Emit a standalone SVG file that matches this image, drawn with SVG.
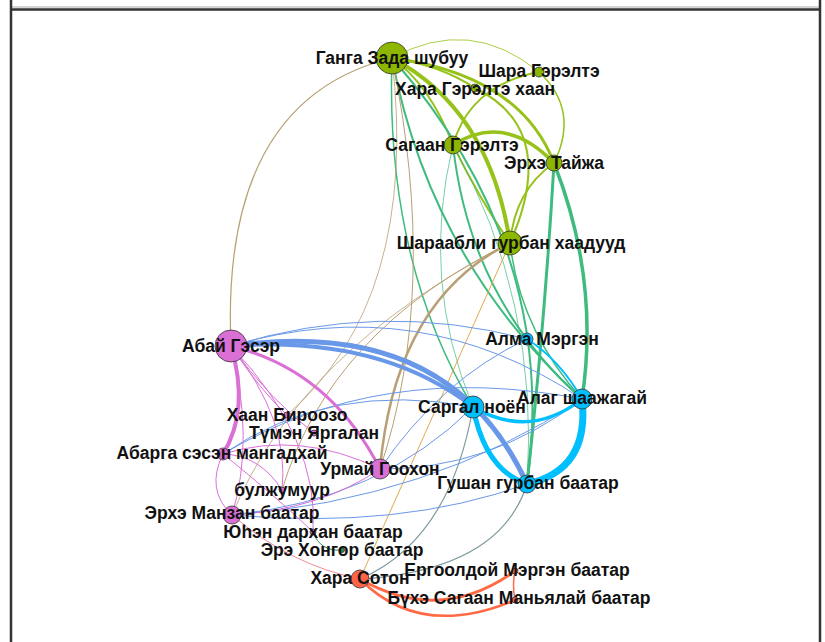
<svg xmlns="http://www.w3.org/2000/svg" width="825" height="642" viewBox="0 0 825 642">
<style>
.e{fill:none;stroke-linecap:round}
.g{stroke:#96c21a}.t{stroke:#3fbb80}.n{stroke:#b89f74}.b{stroke:#6a98e8}.p{stroke:#da70d6}.c{stroke:#00bfff}.s{stroke:#7d9a9e}.o{stroke:#ff6a45}.r{stroke:#f08c98}.y{stroke:#e0aa50}.d{stroke:#2e8b57}
.nd{stroke:#333;stroke-width:0.8}
.ng{fill:#8db600}.np{fill:#da70d6}.nb{fill:#00bfff}.no{fill:#ff6347}.nk{fill:#2e8b57}
text{font-family:"Liberation Sans",Arial,sans-serif;font-weight:bold;font-size:17.5px;fill:#111;text-anchor:middle}
</style>
<rect width="825" height="642" fill="#fff"/>
<g id="frame">
<line x1="11" y1="7" x2="820" y2="7" stroke="#aaa" stroke-width="1"/>
<line x1="11" y1="9.5" x2="820" y2="9.5" stroke="#333" stroke-width="2.5"/>
<line x1="11" y1="0" x2="11" y2="642" stroke="#333" stroke-width="2.5"/>
<line x1="820" y1="0" x2="820" y2="642" stroke="#333" stroke-width="2.5"/>
</g>
<g id="edges">
<path class="e g" stroke-width="1" opacity="0.8" d="M392,58 Q470,15 539,72"/>
<path class="e g" stroke-width="2" d="M392,58 Q430,85 453,145"/>
<path class="e g" stroke-width="3" d="M392,58 Q520,75 554,163"/>
<path class="e g" stroke-width="4" d="M392,58 Q490,110 510,243"/>
<path class="e g" stroke-width="2" d="M392,58 Q440,65 475,88"/>
<path class="e g" stroke-width="1.5" d="M539,72 Q580,110 554,163"/>
<path class="e g" stroke-width="2" d="M539,72 Q470,85 453,145"/>
<path class="e g" stroke-width="2" d="M475,88 Q560,130 510,243"/>
<path class="e g" stroke-width="3.5" d="M453,145 Q505,112 554,163"/>
<path class="e g" stroke-width="2" d="M453,145 Q480,200 510,243"/>
<path class="e g" stroke-width="2" d="M554,163 Q515,190 510,243"/>
<path class="e t" stroke-width="2" d="M392,58 Q430,260 582,399"/>
<path class="e t" stroke-width="1.5" d="M392,58 Q385,260 473,407"/>
<path class="e t" stroke-width="3.5" d="M554,163 Q600,280 582,399"/>
<path class="e t" stroke-width="3" d="M554,163 Q545,320 527,484"/>
<path class="e t" stroke-width="2" d="M453,145 Q470,300 582,399"/>
<path class="e t" stroke-width="1" opacity="0.7" d="M453,145 Q420,280 473,407"/>
<path class="e t" stroke-width="1.5" d="M510,243 Q520,330 582,399"/>
<path class="e t" stroke-width="1" opacity="0.7" d="M453,145 Q540,300 527,484"/>
<path class="e t" stroke-width="2" d="M392,58 Q560,250 527,484"/>
<path class="e n" stroke-width="1.2" d="M231,346 Q220,100 392,58"/>
<path class="e n" stroke-width="2.5" d="M510,243 Q395,300 380,469"/>
<path class="e n" stroke-width="1" d="M392,58 Q440,290 380,469"/>
<path class="e n" stroke-width="1" d="M510,243 Q330,330 282,490"/>
<path class="e n" stroke-width="1" opacity="0.8" d="M392,58 Q420,300 287,415"/>
<path class="e n" stroke-width="1" opacity="0.8" d="M510,243 Q300,350 232,515"/>
<path class="e y" stroke-width="1" d="M360,579 Q440,400 510,243"/>
<path class="e b" stroke-width="4" d="M231,346 Q380,335 473,407"/>
<path class="e b" stroke-width="5" d="M231,346 Q450,315 527,484"/>
<path class="e b" stroke-width="1" d="M231,346 Q420,290 582,399"/>
<path class="e b" stroke-width="1" d="M231,346 Q380,300 527,339"/>
<path class="e b" stroke-width="1" d="M223,454 Q330,380 473,407"/>
<path class="e b" stroke-width="1" d="M223,454 Q380,360 582,399"/>
<path class="e b" stroke-width="1" d="M232,515 Q380,500 473,407"/>
<path class="e b" stroke-width="1" d="M232,515 Q400,530 527,484"/>
<path class="e b" stroke-width="1" d="M232,515 Q430,500 582,399"/>
<path class="e b" stroke-width="1" d="M380,469 Q490,470 582,399"/>
<path class="e b" stroke-width="1" d="M380,469 Q440,380 527,339"/>
<path class="e p" stroke-width="4" d="M231,346 Q250,410 223,454"/>
<path class="e p" stroke-width="3" d="M231,346 Q330,370 380,469"/>
<path class="e p" stroke-width="1" d="M231,346 Q260,390 287,415"/>
<path class="e p" stroke-width="1" d="M231,346 Q270,400 314,433"/>
<path class="e p" stroke-width="1" d="M231,346 Q290,420 282,490"/>
<path class="e p" stroke-width="1" d="M231,346 Q255,440 232,515"/>
<path class="e p" stroke-width="1" d="M231,346 Q320,440 313,532"/>
<path class="e p" stroke-width="1" d="M223,454 Q300,430 380,469"/>
<path class="e p" stroke-width="1" d="M223,454 Q205,490 232,515"/>
<path class="e p" stroke-width="1" d="M223,454 Q260,455 282,490"/>
<path class="e p" stroke-width="1" d="M232,515 Q320,510 380,469"/>
<path class="e p" stroke-width="1" d="M223,454 Q280,500 313,532"/>
<path class="e c" stroke-width="3.5" d="M473,407 Q530,440 582,399"/>
<path class="e c" stroke-width="5" d="M473,407 Q485,470 527,484"/>
<path class="e c" stroke-width="7" d="M582,399 Q590,470 527,484"/>
<path class="e c" stroke-width="2" d="M527,339 Q560,360 582,399"/>
<path class="e s" stroke-width="1.2" d="M360,579 Q450,540 473,407"/>
<path class="e s" stroke-width="1.2" d="M360,579 Q500,570 527,484"/>
<path class="e d" stroke-width="1" d="M313,532 Q320,552 342,550"/>
<path class="e r" stroke-width="1" d="M232,515 Q290,565 360,579"/>
<path class="e o" stroke-width="3" d="M360,579 Q440,625 515,571"/>
<path class="e o" stroke-width="2.5" d="M360,579 Q420,640 515,600"/>
<path class="e o" stroke-width="1.5" d="M515,571 Q512,585 515,600"/>
</g>
<g id="n-ganga"><circle class="nd ng" cx="392" cy="58" r="16"/><text x="392" y="64">Ганга Зада шубуу</text></g>
<g id="n-shara"><circle class="nd ng" cx="539" cy="72" r="5"/><text x="539" y="77">Шара Гэрэлтэ</text></g>
<g id="n-hara"><circle class="nd ng" cx="475" cy="88" r="4"/><text x="475" y="95">Хара Гэрэлтэ хаан</text></g>
<g id="n-sagaan"><circle class="nd ng" cx="453" cy="145" r="9"/><text x="452" y="151">Сагаан Гэрэлтэ</text></g>
<g id="n-erhe"><circle class="nd ng" cx="554" cy="163" r="8"/><text x="554" y="169">Эрхэ Тайжа</text></g>
<g id="n-sharaabli"><circle class="nd ng" cx="510" cy="243" r="12"/><text x="511" y="249">Шараабли гурбан хаадууд</text></g>
<g id="n-abai"><circle class="nd np" cx="231" cy="346" r="16"/><text x="231" y="352">Абай Гэсэр</text></g>
<g id="n-alma"><circle class="nd nb" cx="527" cy="339" r="6"/><text x="542" y="345">Алма Мэргэн</text></g>
<g id="n-alag"><circle class="nd nb" cx="582" cy="399" r="10"/><text x="582" y="404">Алаг шаажагай</text></g>
<g id="n-sargal"><circle class="nd nb" cx="473" cy="407" r="11"/><text x="472" y="413">Саргал ноён</text></g>
<g id="n-gushan"><circle class="nd nb" cx="527" cy="484" r="9"/><text x="528" y="489">Гушан гурбан баатар</text></g>
<g id="n-haan"><circle class="nd np" cx="287" cy="415" r="3"/><text x="287" y="421">Хаан Бироозо</text></g>
<g id="n-tumen"><circle class="nd np" cx="314" cy="433" r="3"/><text x="314" y="439">Түмэн Яргалан</text></g>
<g id="n-abarga"><circle class="nd np" cx="223" cy="454" r="6"/><text x="222" y="459">Абарга сэсэн мангадхай</text></g>
<g id="n-urmai"><circle class="nd np" cx="380" cy="469" r="10"/><text x="380" y="475">Урмай Гоохон</text></g>
<g id="n-bulzh"><circle class="nd np" cx="282" cy="490" r="3"/><text x="282" y="496">булжумуур</text></g>
<g id="n-manzan"><circle class="nd np" cx="232" cy="515" r="9"/><text x="232" y="519">Эрхэ Манзан баатар</text></g>
<g id="n-yuhen"><circle class="nd np" cx="313" cy="532" r="3"/><text x="313" y="538">Юһэн дархан баатар</text></g>
<g id="n-ere"><circle class="nd nk" cx="342" cy="550" r="2.5"/><text x="342" y="556">Эрэ Хонгор баатар</text></g>
<g id="n-harasoton"><circle class="nd no" cx="360" cy="579" r="9"/><text x="360" y="584">Хара Сотон</text></g>
<g id="n-ergoold"><circle class="nd no" cx="515" cy="571" r="3"/><text x="517" y="576">Ергоолдой Мэргэн баатар</text></g>
<g id="n-buhe"><circle class="nd no" cx="515" cy="600" r="3"/><text x="519" y="604">Бүхэ Сагаан Маньялай баатар</text></g>
</svg>
